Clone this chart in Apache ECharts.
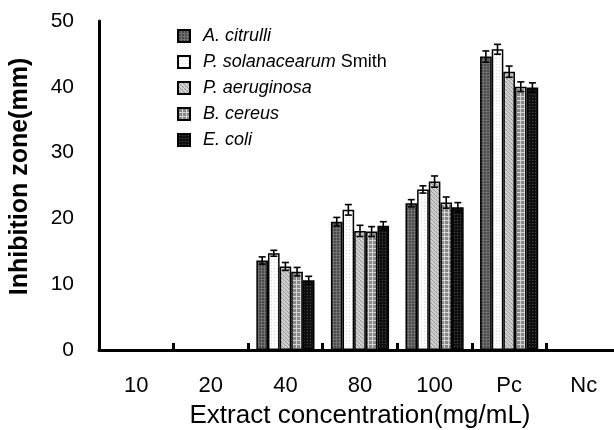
<!DOCTYPE html>
<html><head><meta charset="utf-8">
<script src="https://cdn.jsdelivr.net/npm/echarts@6/dist/echarts.min.js"></script>
<style>html,body{margin:0;padding:0;background:#fff}#c{width:614px;height:430px}</style>
</head><body><div id="c"></div>
<script>
const categories = ['10', '20', '40', '80', '100', 'Pc', 'Nc'];
const seriesNames = ['A. citrulli', 'P. solanacearum Smith', 'P. aeruginosa', 'B. cereus', 'E. coli'];
const aCitrulli     = [null, null, 13.6, 19.5, 22.3, 44.6, null];
const pSolanacearum = [null, null, 14.7, 21.3, 24.4, 45.7, null];
const pAeruginosa   = [null, null, 12.7, 18.1, 25.6, 42.3, null];
const bCereus       = [null, null, 11.9, 18.0, 22.4, 40.0, null];
const eColi         = [null, null, 10.6, 18.9, 21.7, 39.9, null];
const errACitrulli     = [null, null, 0.55, 0.65, 0.55, 0.85, null];
const errPSolanacearum = [null, null, 0.45, 0.8, 0.55, 0.75, null];
const errPAeruginosa   = [null, null, 0.6, 0.85, 0.85, 0.85, null];
const errBCereus       = [null, null, 0.65, 0.75, 0.85, 0.75, null];
const errEColi         = [null, null, 0.6, 0.6, 0.7, 0.7, null];
const yTicks = [0, 10, 20, 30, 40, 50];

const values = [aCitrulli, pSolanacearum, pAeruginosa, bCereus, eColi];
const errors = [errACitrulli, errPSolanacearum, errPAeruginosa, errBCereus, errEColi];

function pattern(w, h, bg, draw) {
  const cv = document.createElement('canvas');
  cv.width = w; cv.height = h;
  const ctx = cv.getContext('2d');
  ctx.fillStyle = bg; ctx.fillRect(0, 0, w, h);
  draw(ctx);
  return { image: cv, repeat: 'repeat' };
}
const fills = [
  pattern(3, 3, '#4a4a4a', c => { c.fillStyle = '#707070'; c.fillRect(0, 0, 3, 1); c.fillRect(0, 0, 1, 3); }),
  pattern(3, 3, '#ffffff', c => { c.fillStyle = '#d8d8d8'; c.fillRect(1, 1, 1, 1); }),
  pattern(4, 4, '#cfcfcf', c => { c.fillStyle = '#9a9a9a'; for (let i = 0; i < 4; i++) c.fillRect(i, i, 1, 1); }),
  pattern(4, 4, '#888888', c => { c.fillStyle = '#d4d4d4'; c.fillRect(0, 0, 4, 1); c.fillRect(0, 0, 1, 4); }),
  pattern(3, 3, '#111111', c => { c.fillStyle = '#4a4a4a'; c.fillRect(1, 1, 1, 1); })
];

const CAT_GAP = 0.22;
const FONT = '"Liberation Sans", Arial, sans-serif';

const series = [];
seriesNames.forEach((name, i) => {
  series.push({
    name, type: 'bar', data: values[i].map(v => v == null ? '-' : v),
    barGap: 0, barCategoryGap: (CAT_GAP * 100) + '%',
    itemStyle: { color: fills[i], borderColor: '#000', borderWidth: 1.5 },
    emphasis: { disabled: true }, z: 2
  });
});
seriesNames.forEach((name, i) => {
  const data = [];
  values[i].forEach((v, k) => { if (v != null) data.push([k, v, errors[i][k]]); });
  series.push({
    type: 'custom', data, z: 5, silent: true,
    renderItem(params, api) {
      const k = api.value(0), v = api.value(1), e = api.value(2);
      const band = api.size([1, 0])[0];
      const group = band * (1 - CAT_GAP);
      const bw = group / seriesNames.length;
      const c = api.coord([k, v]);
      const cx = c[0] - group / 2 + bw * (i + 0.5);
      const yt = api.coord([k, v + e])[1], yb = api.coord([k, v - e])[1];
      const hw = 3.5;
      const st = { stroke: '#000', lineWidth: 1.6 };
      return { type: 'group', children: [
        { type: 'line', shape: { x1: cx, y1: yt, x2: cx, y2: yb }, style: st },
        { type: 'line', shape: { x1: cx - hw, y1: yt, x2: cx + hw, y2: yt }, style: st },
        { type: 'line', shape: { x1: cx - hw, y1: yb, x2: cx + hw, y2: yb }, style: st }
      ]};
    }
  });
});

const chart = echarts.init(document.getElementById('c'), null, { renderer: 'canvas' });
chart.setOption({
  animation: false,
  backgroundColor: '#fff',
  textStyle: { fontFamily: FONT },
  grid: { left: 99, right: -7, top: 21, bottom: 80, containLabel: false, outerBoundsMode: 'none' },
  legend: {
    orient: 'vertical', left: 177, top: 27, padding: 0, itemWidth: 12, itemHeight: 12, itemGap: 8,
    icon: 'rect', data: seriesNames, selectedMode: false,
    formatter: n => n === 'P. solanacearum Smith' ? '{i|P. solanacearum}{n| Smith}' : '{i|' + n + '}',
    textStyle: {
      fontFamily: FONT, fontSize: 18, color: '#000', lineHeight: 16,
      rich: {
        i: { fontStyle: 'italic', fontSize: 18, lineHeight: 16, fontFamily: FONT, color: '#000', padding: [0, 0, 0, 8] },
        n: { fontSize: 18, lineHeight: 16, fontFamily: FONT, color: '#000' }
      }
    }
  },
  xAxis: {
    type: 'category', data: categories, boundaryGap: true,
    axisLine: { lineStyle: { color: '#000', width: 3 } },
    axisTick: { show: true, inside: true, alignWithLabel: false, length: 7, lineStyle: { color: '#000', width: 3 } },
    axisLabel: { color: '#000', fontSize: 22, fontFamily: FONT, margin: 25 },
    name: 'Extract concentration(mg/mL)', nameLocation: 'middle', nameGap: 53,
    nameTextStyle: { color: '#000', fontSize: 26, fontFamily: FONT }
  },
  yAxis: {
    type: 'value', min: yTicks[0], max: yTicks[yTicks.length - 1], interval: 10,
    axisLine: { show: true, lineStyle: { color: '#000', width: 3 } },
    axisTick: { show: false }, splitLine: { show: false },
    axisLabel: { color: '#000', fontSize: 21, fontFamily: FONT, margin: 25 },
    name: 'Inhibition zone(mm)', nameLocation: 'middle', nameGap: 66,
    nameTextStyle: { color: '#000', fontSize: 25, fontWeight: 'bold', fontFamily: FONT, padding: [0, 0, 0, 18] }
  },
  series
});
</script></body></html>
